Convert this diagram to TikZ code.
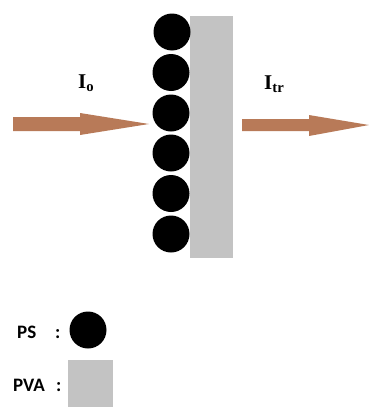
\documentclass[tikz,border=0pt]{standalone}
\usepackage{fontspec}
\setmainfont{Liberation Serif}
\newfontfamily\legendfont{Carlito}
\definecolor{arrowbrown}{RGB}{184,122,88}
\definecolor{pvagray}{RGB}{195,195,195}
\begin{document}
\begin{tikzpicture}[x=1pt,y=-1pt,
  psdot/.style={circle,fill=black,minimum size=37pt,inner sep=0pt},
  beam/.style={fill=arrowbrown},
  lbl/.style={anchor=base west,inner sep=0pt,font=\fontsize{21}{21}\selectfont\bfseries},
  leg/.style={anchor=base west,inner sep=0pt,font=\legendfont\fontsize{19}{19}\selectfont\bfseries}]
\useasboundingbox (0,0) rectangle (369,407);
% PVA layer
\fill[pvagray] (190,16) rectangle (233,258);
% PS spheres
\node[psdot] (s1) at (172,32) {};
\node[psdot] (s2) at (171,72.5) {};
\node[psdot] (s3) at (171,113) {};
\node[psdot] (s4) at (171,153) {};
\node[psdot] (s5) at (171,193.5) {};
\node[psdot] (s6) at (171,234) {};
% incident beam
\fill[beam] (13,117) -- (80,117) -- (80,113) -- (149,124) -- (80,135) -- (80,131) -- (13,131) -- cycle;
% transmitted beam
\fill[beam] (242,119) -- (309,119) -- (309,115) -- (369,125) -- (309,136) -- (309,131) -- (242,131) -- cycle;
% labels
\node[lbl] (i0) at (78,88) {I\textsubscript{o}};
\node[lbl] (itr) at (264,89) {I\textsubscript{tr}};
% legend
\node[leg] (ps) at (17,338) {PS};
\node[leg] (psc) at (55,338) {:};
\node[psdot] (psdot) at (88,330) {};
\node[leg] (pva) at (13,391) {PVA};
\node[leg] (pvac) at (56,391) {:};
\fill[pvagray] (68,360) rectangle (113,407);
\end{tikzpicture}
\end{document}
